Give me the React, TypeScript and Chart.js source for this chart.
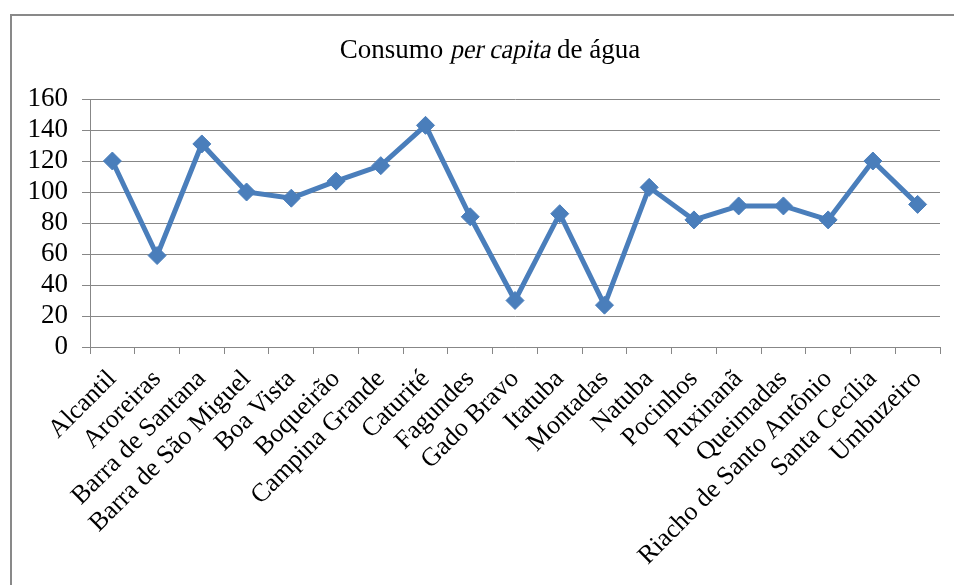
import React, { useEffect, useRef } from "react";
import { Chart, registerables } from "chart.js";

Chart.register(...registerables);

const categories: string[] = [
  "Alcantil",
  "Aroreiras",
  "Barra de Santana",
  "Barra de São Miguel",
  "Boa Vista",
  "Boqueirão",
  "Campina Grande",
  "Caturité",
  "Fagundes",
  "Gado Bravo",
  "Itatuba",
  "Montadas",
  "Natuba",
  "Pocinhos",
  "Puxinanã",
  "Queimadas",
  "Riacho de Santo Antônio",
  "Santa Cecília",
  "Umbuzeiro",
];

const consumo: number[] = [120, 59, 131, 100, 96, 107, 117, 143, 84, 30, 86, 27, 103, 82, 91, 91, 82, 120, 92];

const titleParts: { text: string; italic: boolean }[] = [
  { text: "Consumo ", italic: false },
  { text: "per capita", italic: true },
  { text: " de água", italic: false },
];

const yMin = 0;
const yMax = 160;
const yStep = 20;

const FONT = "'Liberation Serif', 'Times New Roman', serif";
const GRID = "#878787";
const BLUE = "#4A7EBB";

const titlePlugin = {
  id: "mixedTitle",
  afterDraw(chart: any) {
    const ctx = chart.ctx as CanvasRenderingContext2D;
    ctx.save();
    ctx.fillStyle = "#000";
    ctx.textBaseline = "alphabetic";
    ctx.textAlign = "left";
    const size = 27;
    ctx.font = `${size}px ${FONT}`;
    let total = 0;
    const widths = titleParts.map((p) => {
      const w = ctx.measureText(p.text).width * (p.italic ? 0.95 : 1);
      total += w;
      return w;
    });
    let x = 490 - total / 2;
    const baseY = 58;
    titleParts.forEach((p, i) => {
      if (p.italic) {
        ctx.save();
        ctx.translate(x, baseY);
        ctx.transform(1, 0, -0.21, 1, 0, 0);
        ctx.scale(0.95, 1);
        ctx.fillText(p.text, 0, 0);
        ctx.restore();
      } else {
        ctx.fillText(p.text, x, baseY);
      }
      x += widths[i];
    });
    ctx.restore();
  },
};

export default function App() {
  const ref = useRef<HTMLCanvasElement | null>(null);

  useEffect(() => {
    if (!ref.current) return;
    const chart = new Chart(ref.current, {
      type: "line",
      data: {
        labels: categories,
        datasets: [
          {
            label: "Consumo per capita de água",
            data: consumo,
            borderColor: BLUE,
            backgroundColor: BLUE,
            borderWidth: 5,
            tension: 0,
            pointStyle: "rectRot",
            pointRadius: 9,
            pointBorderWidth: 1,
            pointBackgroundColor: BLUE,
            pointBorderColor: BLUE,
          },
        ],
      },
      options: {
        responsive: false,
        animation: false,
        layout: { padding: { top: 99, right: 14, left: 0, bottom: 0 } },
        plugins: {
          legend: { display: false },
          title: { display: false },
          tooltip: { enabled: false },
        },
        scales: {
          x: {
            type: "category",
            offset: true,
            grid: {
              offset: true,
              drawOnChartArea: false,
              drawTicks: true,
              tickLength: 7,
              color: GRID,
            },
            border: { color: GRID },
            ticks: {
              autoSkip: false,
              minRotation: 45,
              maxRotation: 45,
              padding: 10,
              color: "#000",
              font: { family: FONT, size: 26 },
            },
            afterFit: (s: any) => {
              s.height = 585 - 347;
            },
          },
          y: {
            min: yMin,
            max: yMax,
            ticks: {
              stepSize: yStep,
              autoSkip: false,
              padding: 14,
              color: "#000",
              font: { family: FONT, size: 27 },
            },
            grid: { color: GRID, tickLength: 8 },
            border: { color: GRID },
            afterFit: (s: any) => {
              s.width = 90;
            },
          },
        },
      },
      plugins: [titlePlugin],
    });
    return () => chart.destroy();
  }, []);

  return (
    <div
      style={{
        position: "absolute",
        left: 0,
        top: 0,
        width: 954,
        height: 585,
        overflow: "hidden",
        background: "#fff",
      }}
    >
      <div
        style={{
          position: "absolute",
          left: 10,
          top: 14,
          width: 980,
          height: 620,
          border: "2px solid #898989",
          boxSizing: "border-box",
        }}
      />
      <canvas
        ref={ref}
        width={954}
        height={585}
        style={{ position: "absolute", left: 0, top: 0, width: 954, height: 585 }}
      />
    </div>
  );
}
